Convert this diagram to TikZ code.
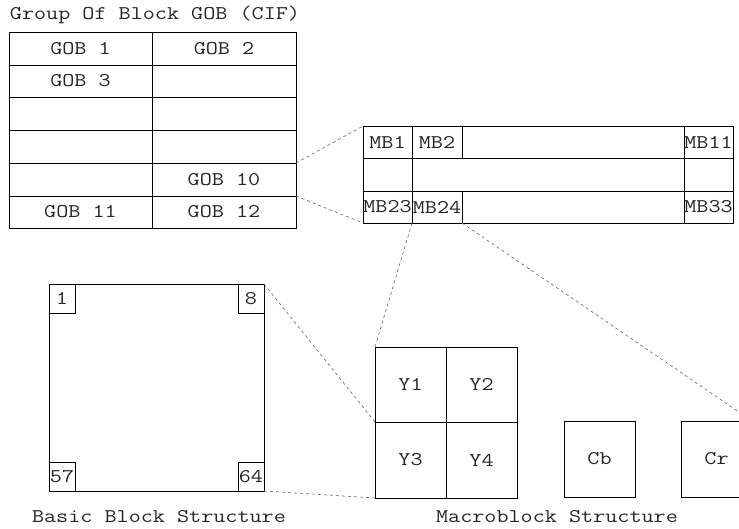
\documentclass[tikz,border=0pt]{standalone}
\usepackage{fontspec}
\setmonofont[FakeStretch=1.21]{Latin Modern Mono}
\begin{document}
\begin{tikzpicture}[x=1pt,y=-1pt,
  txt/.style={font={\ttfamily\fontsize{19.4}{22}\selectfont}, text=black!85, inner sep=0pt},
  cell/.style={txt, draw=black, line width=0.8pt, inner sep=0pt, outer sep=0pt},
  zoomline/.style={draw=black!60, line width=0.6pt, dash pattern=on 3pt off 3pt}]
% cell given by its two corners: name, x1, y1, x2, y2, text
\newcommand\cellat[6]{%
  \pgfmathsetmacro\cellXc{(#2+#4)/2}\pgfmathsetmacro\cellYc{(#3+#5)/2}%
  \pgfmathsetmacro\cellWd{#4-#2}\pgfmathsetmacro\cellHt{#5-#3}%
  \node[cell, minimum width=\cellWd pt, minimum height=\cellHt pt] (#1) at (\cellXc,\cellYc) {#6};}
\useasboundingbox (0,0) rectangle (739,528);
\clip (0,0) rectangle (739,528);
\fill[white] (0,0) rectangle (739,528);

% group of blocks
\node[txt, anchor=base] (title) at (155,19) {Group Of Block GOB (CIF)};
\cellat{g1}{9}{32}{152}{65}{GOB 1}
\cellat{g2}{152}{32}{296}{65}{GOB 2}
\cellat{g3}{9}{65}{152}{97}{GOB 3}
\cellat{g4}{152}{65}{296}{97}{}
\cellat{g5}{9}{97}{152}{130}{}
\cellat{g6}{152}{97}{296}{130}{}
\cellat{g7}{9}{130}{152}{163}{}
\cellat{g8}{152}{130}{296}{163}{}
\cellat{g9}{9}{163}{152}{196}{}
\cellat{g10}{152}{163}{296}{196}{GOB 10}
\cellat{g11}{9}{196}{152}{228}{GOB 11}
\cellat{g12}{152}{196}{296}{228}{GOB 12}

% macroblocks of one GOB
\cellat{mb1}{363}{126}{412}{158}{MB1}
\cellat{mb2}{412}{126}{462}{158}{MB2}
\cellat{mbr1}{462}{126}{684}{158}{}
\cellat{mb11}{684}{126}{733}{158}{MB11}
\cellat{mb12}{363}{158}{412}{191}{}
\cellat{mbr2}{412}{158}{684}{191}{}
\cellat{mb22}{684}{158}{733}{191}{}
\cellat{mb23}{363}{191}{412}{223}{MB23}
\cellat{mb24}{412}{191}{462}{223}{MB24}
\cellat{mbr3}{462}{191}{684}{223}{}
\cellat{mb33}{684}{191}{733}{223}{MB33}

% basic block
\cellat{bb}{49}{284}{264}{491}{}
\cellat{b1}{49}{284}{75}{313}{1}
\cellat{b8}{238}{284}{264}{313}{8}
\cellat{b57}{49}{462}{75}{491}{57}
\cellat{b64}{238}{462}{264}{491}{64}
\node[txt, anchor=base] (bbcap) at (159,522) {Basic Block Structure};

% macroblock
\cellat{y1}{375}{347}{446}{422}{Y1}
\cellat{y2}{446}{347}{517}{422}{Y2}
\cellat{y3}{375}{422}{446}{498}{Y3}
\cellat{y4}{446}{422}{517}{498}{Y4}
\cellat{cb}{564}{421}{635}{497}{Cb}
\cellat{cr}{681}{421}{752}{497}{Cr}
\node[txt, anchor=base] (mbcap) at (557,522) {Macroblock Structure};

% zoom connectors
\draw[zoomline] (g10.north east) -- (mb1.north west);
\draw[zoomline] (g10.south east) -- (mb23.south west);
\draw[zoomline] (mb24.south west) -- (y1.north west);
\draw[zoomline] (mb24.south east) -- (cr.north east);
\draw[zoomline] (bb.north east) -- (y3.north west);
\draw[zoomline] (bb.south east) -- (y3.south west);
\end{tikzpicture}
\end{document}
